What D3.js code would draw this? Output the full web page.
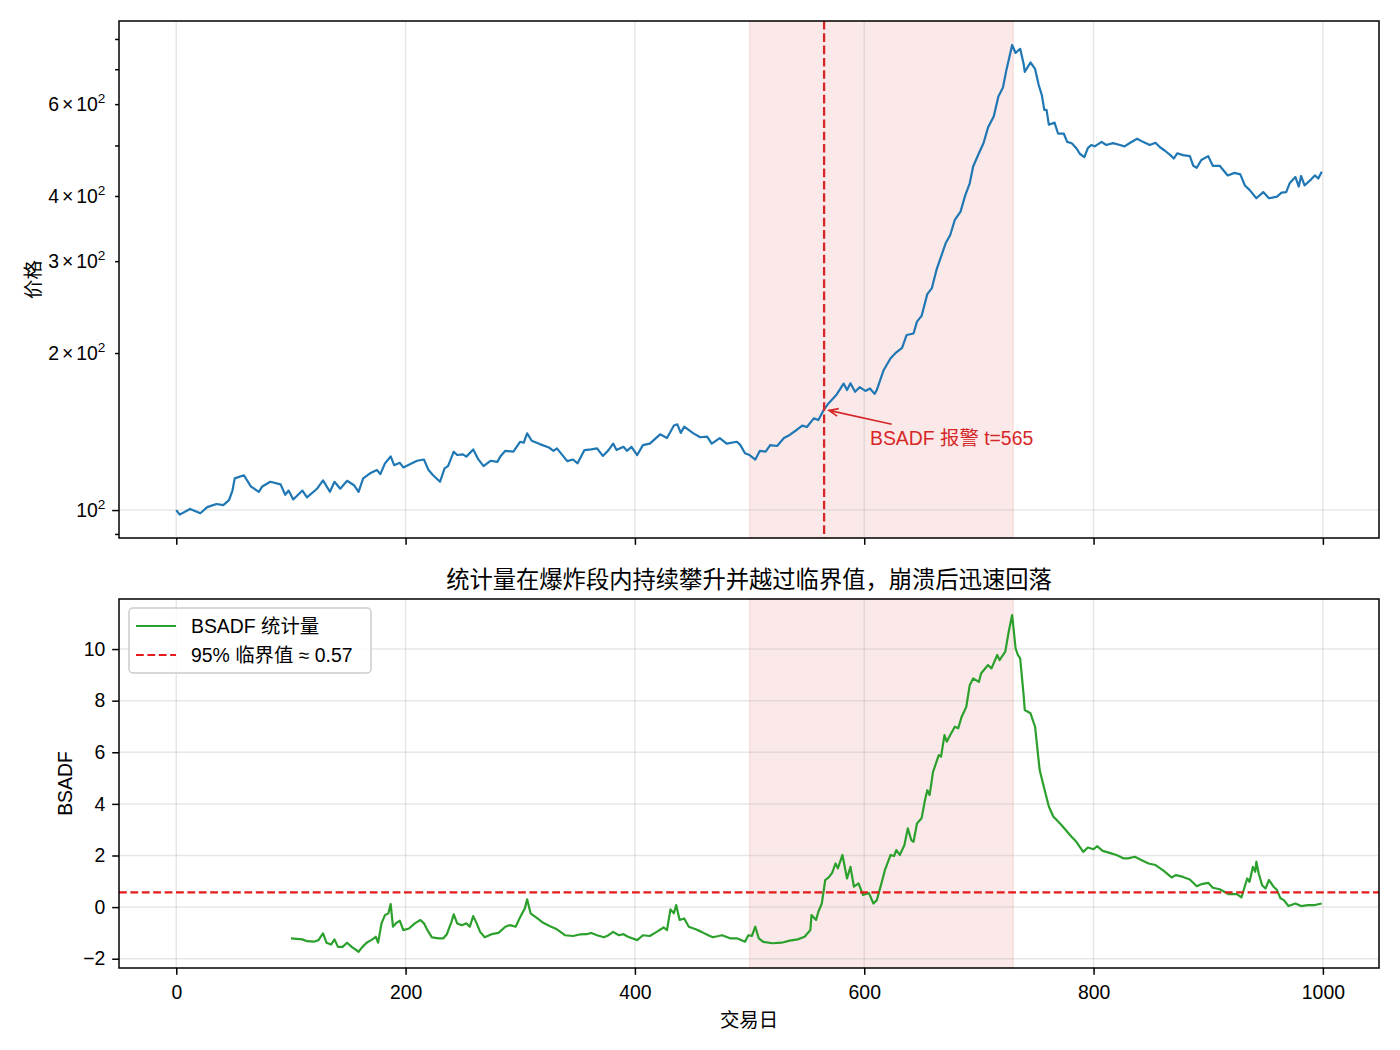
<!DOCTYPE html>
<html>
<head>
<meta charset="utf-8">
<script src="https://cdn.jsdelivr.net/npm/d3@7"></script>
<style>
body { margin: 0; background: #fff; }
text { font-family: "Liberation Sans", "Noto Sans CJK SC", sans-serif; fill: #000; }
</style>
</head>
<body>
<div id="chart"></div>
<script>
// Price series (trading day, price)
var priceDays = [0,3,12,21,27,35,41,46,49,51,59,65,72,75,82,91,95,98,102,110,114,123,128,134,138,143,149,155,159,163,169,175,178,182,187,190,195,198,210,216,220,224,230,234,237,242,245,250,253,259,263,268,274,280,283,287,294,300,303,306,310,317,325,329,332,341,346,350,356,362,367,372,377,381,384,390,393,397,402,407,413,422,428,434,437,440,443,451,457,463,467,474,480,489,492,496,500,505,509,514,518,524,530,535,541,546,550,556,560,565,569,576,582,585,588,592,596,601,605,609,611,617,623,628,633,637,643,646,650,655,659,663,666,671,675,679,684,688,692,695,700,704,708,713,717,721,724,729,732,736,739,740,745,749,752,755,757,759,761,766,769,774,777,781,785,788,792,795,798,801,807,811,817,823,827,832,838,843,849,854,858,862,867,870,873,878,884,887,890,894,900,904,910,917,923,928,932,936,942,948,953,960,964,968,971,976,979,981,984,990,993,996,999];
var priceValues = [100,98,100.5,98.6,101.3,102.7,102.2,104.5,109,115,116.6,111,108.4,111,113.3,112,107,109,104.8,109,105.8,110,114,108.4,113.3,109.9,113.8,111.6,108.4,115,117.6,119.3,117.2,122.9,126.7,121.9,123.2,120.7,124.3,125,119.3,116.6,113.3,120.2,121.4,129.4,127.5,127.9,126.6,130.7,125.5,121.4,124.3,123.7,127,129.9,129.4,135.2,134.6,140.3,135.8,133.8,131.8,129.9,131.3,124.1,125,122.9,130.3,130.7,131.3,127,130.3,134.1,130.3,132.2,129.9,132.2,127.5,133.2,134.1,139.7,137.4,145.2,146,140.6,144.5,140.3,137.9,138.3,134.1,137.4,134.1,135.2,133.2,128.5,127.5,125,129.9,129.4,133.2,132.7,137.4,139.3,142.4,145.2,144.3,149.9,148.8,156,160.3,166.6,174.8,169.9,175,168.6,172,169.2,171,167,170,185.6,195.4,200.6,204.5,216.6,218,229.7,235.6,259.4,266.4,288.6,301.6,324.6,336.8,359.9,373.3,400.7,423,455.6,483,505,541.5,568.6,620.7,646,697.9,779,752,766,717,692,721,701,655,623,585,585,548,553,527,527,508,505,494,482,475,494,501,498,508,501,505,501,498,506,515,508,501,506,496,489,479,472,483,479,477,457,453,469,477,457,457,438,443,440,419,411,396,407,396,399,406,407,423,435,417,437,419,431,438,432,445];

// BSADF statistic (trading day, value)
var bsadfDays = [100,110,114,120,124,128,131,135,138,141,145,149,153,159,162,166,171,174,176,179,182,185,187,189,192,195,198,203,208,213,216,219,223,229,233,236,240,242,245,249,253,256,259,262,265,269,275,281,287,291,296,300,304,306,309,315,320,326,332,339,346,352,358,362,367,373,377,381,386,390,394,402,407,413,419,425,428,431,434,436,439,443,447,453,458,464,468,476,483,489,496,499,502,505,508,512,520,528,535,542,548,553,554,558,560,563,566,569,572,575,577,581,585,588,591,595,599,604,608,611,615,618,623,626,628,631,635,638,641,643,646,650,653,655,657,660,665,667,670,672,675,679,682,685,689,692,695,700,702,708,711,716,718,723,726,729,732,734,736,739,740,745,749,753,757,761,765,768,772,777,781,785,791,795,800,803,808,814,820,826,830,836,842,848,854,861,868,872,878,884,890,894,900,904,910,918,925,929,934,936,939,941,942,944,947,950,953,957,960,963,966,970,976,981,987,993,999];
var bsadfValues = [-1.21,-1.25,-1.32,-1.34,-1.28,-1.02,-1.38,-1.45,-1.25,-1.54,-1.54,-1.38,-1.54,-1.73,-1.56,-1.38,-1.25,-1.15,-1.38,-0.63,-0.31,-0.24,0.12,-0.76,-0.61,-0.53,-0.89,-0.83,-0.63,-0.5,-0.63,-0.89,-1.17,-1.21,-1.21,-1.05,-0.57,-0.28,-0.63,-0.7,-0.63,-0.76,-0.35,-0.63,-0.96,-1.17,-1.05,-1.0,-0.76,-0.7,-0.76,-0.38,-0.05,0.3,-0.24,-0.44,-0.61,-0.74,-0.86,-1.09,-1.12,-1.06,-1.05,-1.0,-1.09,-1.17,-1.09,-0.96,-1.09,-1.05,-1.15,-1.28,-1.09,-1.12,-0.96,-0.79,-0.89,-0.09,-0.24,0.08,-0.5,-0.44,-0.76,-0.86,-0.96,-1.09,-1.17,-1.09,-1.21,-1.21,-1.34,-1.09,-1.12,-0.76,-1.21,-1.35,-1.4,-1.38,-1.3,-1.25,-1.15,-0.89,-0.31,-0.5,-0.18,0.14,1.05,1.15,1.33,1.69,1.5,2.02,1.11,1.56,0.79,0.92,0.47,0.55,0.14,0.27,0.92,1.43,2.02,1.98,2.21,2.02,2.4,3.05,2.6,2.53,3.24,3.44,4.15,4.53,4.34,5.24,5.89,5.83,6.67,6.41,6.67,6.99,6.93,7.38,7.76,8.6,8.86,8.73,9.06,9.38,9.25,9.77,9.57,9.9,10.67,11.32,10.03,9.77,9.64,8.22,7.64,7.51,6.99,5.31,4.6,3.9,3.5,3.37,3.18,2.92,2.72,2.53,2.14,2.31,2.24,2.36,2.18,2.1,2.02,1.89,1.89,1.95,1.82,1.69,1.63,1.41,1.15,1.24,1.17,1.07,0.81,0.89,0.94,0.75,0.69,0.5,0.5,0.38,1.11,0.98,1.56,1.37,1.76,1.31,0.85,0.72,1.05,0.79,0.66,0.34,0.27,0.04,0.14,0.04,0.08,0.08,0.14];

// Ticks and marker values
var xTicks = [0, 200, 400, 600, 800, 1000];
var bsadfTicks = [-2, 0, 2, 4, 6, 8, 10];
var priceMajorTicks = [100];
var priceMinorTicks = [90, 200, 300, 400, 500, 600, 700, 800];
var priceLabelTicks = [100, 200, 300, 400, 600];
var bubbleSpan = [500, 730];
var alarmDay = 565;
var alarmText = [605, 133];   // annotation text position (day, price)
var arrowFrom = [624, 146];   // arrow tail (day, price)
var criticalValue = 0.57;

// SVG and axes areas
var svgWidth = 1400;
var svgHeight = 1050;
var axLeft = 119, axRight = 1379;
var top1 = 21, bottom1 = 538;
var top2 = 599, bottom2 = 968;
var fs = 19.4;
var majorLen = 6.8, minorLen = 3.9;

var svg = d3.select("#chart")
  .append("svg")
  .attr("width", svgWidth)
  .attr("height", svgHeight);

// Scales
var xScale = d3.scaleLinear().domain([-49.95, 1048.95]).range([axLeft, axRight]);
var priceScale = d3.scaleLog().domain([88.4, 866]).range([bottom1, top1]);
var bsadfScale = d3.scaleLinear().domain([-2.36, 11.94]).range([bottom2, top2]);

var priceData = priceDays.map(function(d, i) { return [d, priceValues[i]]; });
var bsadfData = bsadfDays.map(function(d, i) { return [d, bsadfValues[i]]; });

var red = "#d62728";
var gridColor = "#b0b0b0";

// ---------- top panel ----------
var g1 = svg.append("g");

// shaded explosive segment
g1.append("rect")
  .attr("x", xScale(bubbleSpan[0]))
  .attr("y", top1)
  .attr("width", xScale(bubbleSpan[1]) - xScale(bubbleSpan[0]))
  .attr("height", bottom1 - top1)
  .attr("fill", red).attr("fill-opacity", 0.1)
  .attr("stroke", red).attr("stroke-opacity", 0.1).attr("stroke-width", 1.5);

// grid
g1.selectAll(".vgrid").data(xTicks).enter().append("line")
  .attr("x1", function(d) { return xScale(d); })
  .attr("x2", function(d) { return xScale(d); })
  .attr("y1", top1).attr("y2", bottom1)
  .attr("stroke", gridColor).attr("stroke-opacity", 0.3).attr("stroke-width", 1.5);
g1.selectAll(".hgrid").data(priceMajorTicks).enter().append("line")
  .attr("x1", axLeft).attr("x2", axRight)
  .attr("y1", function(d) { return priceScale(d); })
  .attr("y2", function(d) { return priceScale(d); })
  .attr("stroke", gridColor).attr("stroke-opacity", 0.3).attr("stroke-width", 1.5);

// price line
var priceLine = d3.line()
  .x(function(d) { return xScale(d[0]); })
  .y(function(d) { return priceScale(d[1]); });
g1.append("path")
  .datum(priceData)
  .attr("d", priceLine)
  .attr("fill", "none")
  .attr("stroke", "#1f77b4")
  .attr("stroke-width", 2.2)
  .attr("stroke-linejoin", "round");

// alarm vertical line
g1.append("line")
  .attr("x1", xScale(alarmDay)).attr("x2", xScale(alarmDay))
  .attr("y1", top1).attr("y2", bottom1)
  .attr("stroke", red).attr("stroke-width", 2.3)
  .attr("stroke-dasharray", "8.6,3.7");

// annotation arrow
var alarmPrice = priceValues[priceDays.indexOf(alarmDay)];
var tipX = xScale(alarmDay), tipY = priceScale(alarmPrice);
var tailX = xScale(arrowFrom[0]), tailY = priceScale(arrowFrom[1]);
var ang = Math.atan2(tipY - tailY, tipX - tailX);
var endX = tipX - 5 * Math.cos(ang), endY = tipY - 5 * Math.sin(ang);
var headLen = 10, headAng = 0.4;
g1.append("path")
  .attr("d", "M" + tailX + "," + tailY + "L" + endX + "," + endY +
    "M" + (endX - headLen * Math.cos(ang - headAng)) + "," + (endY - headLen * Math.sin(ang - headAng)) +
    "L" + endX + "," + endY +
    "L" + (endX - headLen * Math.cos(ang + headAng)) + "," + (endY - headLen * Math.sin(ang + headAng)))
  .attr("fill", "none").attr("stroke", red).attr("stroke-width", 1.6);
g1.append("text")
  .attr("x", xScale(alarmText[0]))
  .attr("y", priceScale(alarmText[1]))
  .style("font-size", fs + "px")
  .style("fill", red)
  .text("BSADF 报警 t=" + alarmDay);

// axes of top panel
var xAxisTop = g1.append("g")
  .attr("transform", "translate(0," + bottom1 + ")")
  .call(d3.axisBottom(xScale).tickValues(xTicks).tickSize(majorLen).tickSizeOuter(0).tickFormat(""));
var yMinor = g1.append("g")
  .attr("transform", "translate(" + axLeft + ",0)")
  .call(d3.axisLeft(priceScale).tickValues(priceMinorTicks).tickSize(minorLen).tickSizeOuter(0).tickFormat(""));
var yMajor = g1.append("g")
  .attr("transform", "translate(" + axLeft + ",0)")
  .call(d3.axisLeft(priceScale).tickValues(priceMajorTicks).tickSize(majorLen).tickSizeOuter(0).tickFormat(""));

// log tick labels like 6×10²
g1.selectAll(".plabel").data(priceLabelTicks).enter().append("text")
  .attr("x", axLeft - majorLen - 6.8)
  .attr("y", function(d) { return priceScale(d); })
  .attr("dy", "0.35em")
  .attr("text-anchor", "end")
  .style("font-size", fs + "px")
  .each(function(d) {
    var e = Math.floor(Math.log10(d) + 1e-9);
    var m = Math.round(d / Math.pow(10, e));
    var t = d3.select(this);
    if (m !== 1) {
      t.append("tspan").text(m);
      t.append("tspan").attr("dx", 3).text("×");
    }
    t.append("tspan").attr("dx", m !== 1 ? 3 : 0).text("10");
    t.append("tspan").attr("dy", "-0.55em").style("font-size", "0.7em").text(e);
  });

// top y label
g1.append("text")
  .attr("transform", "translate(40," + ((top1 + bottom1) / 2) + ") rotate(-90)")
  .attr("text-anchor", "middle")
  .style("font-size", fs + "px")
  .text("价格");

// frame
g1.append("rect")
  .attr("x", axLeft).attr("y", top1)
  .attr("width", axRight - axLeft).attr("height", bottom1 - top1)
  .attr("fill", "none").attr("stroke", "#000").attr("stroke-width", 1.5);

// ---------- bottom panel ----------
var g2 = svg.append("g");

g2.append("rect")
  .attr("x", xScale(bubbleSpan[0]))
  .attr("y", top2)
  .attr("width", xScale(bubbleSpan[1]) - xScale(bubbleSpan[0]))
  .attr("height", bottom2 - top2)
  .attr("fill", red).attr("fill-opacity", 0.1)
  .attr("stroke", red).attr("stroke-opacity", 0.1).attr("stroke-width", 1.5);

g2.selectAll(".vgrid").data(xTicks).enter().append("line")
  .attr("x1", function(d) { return xScale(d); })
  .attr("x2", function(d) { return xScale(d); })
  .attr("y1", top2).attr("y2", bottom2)
  .attr("stroke", gridColor).attr("stroke-opacity", 0.3).attr("stroke-width", 1.5);
g2.selectAll(".hgrid").data(bsadfTicks).enter().append("line")
  .attr("x1", axLeft).attr("x2", axRight)
  .attr("y1", function(d) { return bsadfScale(d); })
  .attr("y2", function(d) { return bsadfScale(d); })
  .attr("stroke", gridColor).attr("stroke-opacity", 0.3).attr("stroke-width", 1.5);

var bsadfLine = d3.line()
  .x(function(d) { return xScale(d[0]); })
  .y(function(d) { return bsadfScale(d[1]); });
g2.append("path")
  .datum(bsadfData)
  .attr("d", bsadfLine)
  .attr("fill", "none")
  .attr("stroke", "#2ca02c")
  .attr("stroke-width", 2.2)
  .attr("stroke-linejoin", "round");

// critical value
g2.append("line")
  .attr("x1", axLeft).attr("x2", axRight)
  .attr("y1", bsadfScale(criticalValue)).attr("y2", bsadfScale(criticalValue))
  .attr("stroke", "#e41a1c").attr("stroke-width", 2.2)
  .attr("stroke-dasharray", "7.8,3.6");

// axes
var xAxisBottom = g2.append("g")
  .attr("transform", "translate(0," + bottom2 + ")")
  .call(d3.axisBottom(xScale).tickValues(xTicks).tickSize(majorLen).tickPadding(10.5).tickSizeOuter(0).tickFormat(d3.format("d")));
var yAxisBottom = g2.append("g")
  .attr("transform", "translate(" + axLeft + ",0)")
  .call(d3.axisLeft(bsadfScale).tickValues(bsadfTicks).tickSize(majorLen).tickPadding(6.8).tickSizeOuter(0).tickFormat(d3.format("d")));

g2.append("text")
  .attr("transform", "translate(72," + ((top2 + bottom2) / 2) + ") rotate(-90)")
  .attr("text-anchor", "middle")
  .style("font-size", fs + "px")
  .text("BSADF");

g2.append("text")
  .attr("x", (axLeft + axRight) / 2)
  .attr("y", 1027)
  .attr("text-anchor", "middle")
  .style("font-size", fs + "px")
  .text("交易日");

g2.append("text")
  .attr("x", (axLeft + axRight) / 2)
  .attr("y", 588)
  .attr("text-anchor", "middle")
  .style("font-size", "23.3px")
  .text("统计量在爆炸段内持续攀升并越过临界值，崩溃后迅速回落");

// legend
var legend = g2.append("g").attr("transform", "translate(129,608)");
legend.append("rect")
  .attr("width", 242).attr("height", 65).attr("rx", 4)
  .attr("fill", "#fff").attr("fill-opacity", 0.8)
  .attr("stroke", "#cccccc").attr("stroke-width", 1.5);
legend.append("line")
  .attr("x1", 7).attr("x2", 47).attr("y1", 18).attr("y2", 18)
  .attr("stroke", "#2ca02c").attr("stroke-width", 2.2);
legend.append("line")
  .attr("x1", 7).attr("x2", 47).attr("y1", 47).attr("y2", 47)
  .attr("stroke", "#e41a1c").attr("stroke-width", 2.2)
  .attr("stroke-dasharray", "7.8,3.6");
legend.append("text").attr("x", 62).attr("y", 25)
  .style("font-size", fs + "px").text("BSADF 统计量");
legend.append("text").attr("x", 62).attr("y", 54)
  .style("font-size", fs + "px").text("95% 临界值 ≈ " + criticalValue);

g2.append("rect")
  .attr("x", axLeft).attr("y", top2)
  .attr("width", axRight - axLeft).attr("height", bottom2 - top2)
  .attr("fill", "none").attr("stroke", "#000").attr("stroke-width", 1.5);

// styling of axes
svg.selectAll(".domain").remove();
svg.selectAll(".tick line").attr("stroke", "#000").attr("stroke-width", 1.5);
svg.selectAll(".tick text")
  .style("font-size", fs + "px")
  .style("font-family", "'Liberation Sans', 'Noto Sans CJK SC', sans-serif")
  .attr("fill", "#000");
</script>
</body>
</html>
